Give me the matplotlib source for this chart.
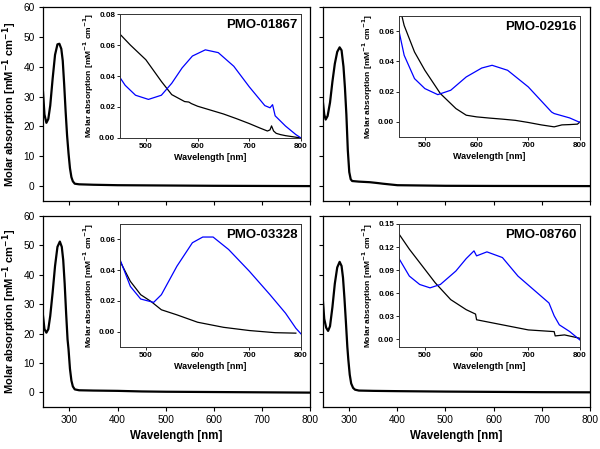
import matplotlib
matplotlib.use("Agg")
import matplotlib.pyplot as plt

plt.rcParams['font.family'] = ['Liberation Sans', 'DejaVu Sans']

BLUE = '#0000ff'

# ---- main UV-vis spectra (wavelength nm, molar absorption mM^-1 cm^-1)
wl_01867 = [245, 248, 252, 256, 260, 265, 270, 275, 279, 283, 286, 289, 292, 295, 298, 301, 304, 307, 311, 320, 350, 400, 500, 600, 700, 800]
ab_01867 = [31.5, 24, 21.2, 22.5, 27, 36, 44, 47.5, 47.7, 46, 42, 34, 25, 17, 11, 6, 3, 1.6, 0.8, 0.6, 0.45, 0.3, 0.2, 0.1, 0.05, 0.0]

wl_02916 = [245, 248, 251, 255, 260, 265, 270, 275, 280, 284, 288, 291, 294, 297, 300, 303, 306, 320, 343, 360, 370, 400, 500, 600, 800]
ab_02916 = [28.5, 24, 22.3, 23.5, 28, 35, 41, 45, 46.5, 45.5, 40, 33, 24, 12, 4.7, 2.3, 1.7, 1.5, 1.3, 1.0, 0.8, 0.3, 0.1, 0.05, 0.0]

wl_03328 = [245, 248, 252, 256, 260, 265, 270, 275, 280, 284, 287, 290, 293, 296, 298, 301, 304, 307, 311, 320, 350, 400, 450, 500, 600, 700, 800]
ab_03328 = [26, 21.5, 20.3, 21.5, 26, 34, 43, 49.5, 51.3, 49.5, 45, 37, 27, 18, 14.7, 8, 4, 2, 1.0, 0.7, 0.6, 0.5, 0.3, 0.2, 0.1, 0.0, -0.1]

wl_08760 = [245, 248, 252, 256, 260, 265, 270, 275, 280, 284, 287, 290, 293, 296, 298, 301, 304, 308, 312, 320, 350, 400, 500, 600, 700, 800]
ab_08760 = [31.7, 25, 22, 20.9, 22.5, 29, 37, 42.5, 44.4, 43, 39, 32, 24, 15.5, 11.2, 6, 3, 1.5, 0.9, 0.6, 0.5, 0.4, 0.25, 0.15, 0.05, 0.0]

# ---- inset spectra, 450-800 nm (black and blue traces)
in_wl_01867_k = [450, 470, 500, 530, 550, 575, 583, 588, 600, 625, 650, 675, 700, 720, 735, 740, 743, 747, 752, 760, 770, 780, 790, 800]
in_ab_01867_k = [0.067, 0.060, 0.0505, 0.0365, 0.028, 0.0235, 0.0232, 0.0222, 0.0205, 0.018, 0.0155, 0.0125, 0.0093, 0.0065, 0.0045, 0.0052, 0.0078, 0.0045, 0.003, 0.0022, 0.0015, 0.001, 0.0005, 0.0]
in_wl_01867_b = [450, 460, 480, 505, 530, 550, 570, 590, 615, 640, 670, 700, 730, 740, 745, 750, 770, 790, 800]
in_ab_01867_b = [0.039, 0.034, 0.0276, 0.0249, 0.0276, 0.0353, 0.0452, 0.0529, 0.0569, 0.0551, 0.0463, 0.033, 0.0209, 0.0195, 0.0215, 0.0143, 0.0077, 0.0022, 0.0]

in_wl_02916_k = [450, 460, 480, 500, 530, 560, 580, 600, 625, 650, 675, 700, 725, 750, 765, 780, 795, 800]
in_ab_02916_k = [0.078, 0.0637, 0.0462, 0.0341, 0.0187, 0.0088, 0.0044, 0.0033, 0.0025, 0.0018, 0.001, -0.0004, -0.002, -0.0033, -0.002, -0.0018, -0.0015, 0.0]
in_wl_02916_b = [450, 460, 480, 500, 525, 550, 580, 610, 630, 660, 700, 745, 750, 780, 800]
in_ab_02916_b = [0.06, 0.044, 0.0286, 0.022, 0.018, 0.0209, 0.0297, 0.0356, 0.0374, 0.0341, 0.0231, 0.0065, 0.0055, 0.0026, -0.0004]

in_wl_03328_k = [450, 470, 490, 510, 530, 560, 600, 650, 700, 750, 790]
in_ab_03328_k = [0.0458, 0.0327, 0.024, 0.0196, 0.0142, 0.0109, 0.0061, 0.0028, 0.0007, -0.0007, -0.001]
in_wl_03328_b = [450, 470, 490, 515, 530, 560, 590, 610, 630, 660, 700, 740, 770, 790, 800]
in_ab_03328_b = [0.0469, 0.0294, 0.0212, 0.019, 0.024, 0.0425, 0.0578, 0.0615, 0.0615, 0.0534, 0.0393, 0.024, 0.012, 0.0022, -0.0015]

in_wl_08760_k = [450, 470, 500, 520, 550, 580, 598, 600, 650, 700, 750, 752, 770, 800]
in_ab_08760_k = [0.1369, 0.1172, 0.091, 0.0735, 0.0516, 0.0385, 0.0328, 0.0254, 0.0188, 0.0122, 0.010, 0.0044, 0.0057, 0.0013]
in_wl_08760_b = [450, 470, 490, 510, 530, 560, 580, 595, 600, 620, 650, 680, 710, 740, 750, 760, 780, 800]
in_ab_08760_b = [0.105, 0.0822, 0.0713, 0.0669, 0.0713, 0.0888, 0.105, 0.115, 0.1085, 0.1137, 0.1063, 0.0822, 0.0647, 0.0472, 0.0306, 0.0188, 0.0101, -0.001]

names = ['PMO-01867', 'PMO-02916', 'PMO-03328', 'PMO-08760']
main_data = [(wl_01867, ab_01867), (wl_02916, ab_02916), (wl_03328, ab_03328), (wl_08760, ab_08760)]
inset_data = [
    (in_wl_01867_k, in_ab_01867_k, in_wl_01867_b, in_ab_01867_b),
    (in_wl_02916_k, in_ab_02916_k, in_wl_02916_b, in_ab_02916_b),
    (in_wl_03328_k, in_ab_03328_k, in_wl_03328_b, in_ab_03328_b),
    (in_wl_08760_k, in_ab_08760_k, in_wl_08760_b, in_ab_08760_b),
]
inset_ylim = [(0, 0.08), (-0.01, 0.07), (-0.01, 0.07), (-0.01, 0.15)]
inset_yticks = [[0, 0.02, 0.04, 0.06, 0.08], [0, 0.02, 0.04, 0.06], [0, 0.02, 0.04, 0.06],
                [0, 0.03, 0.06, 0.09, 0.12, 0.15]]

# positions in figure fractions
main_pos = [[0.0717, 0.5523, 0.445, 0.432], [0.538, 0.5523, 0.445, 0.432],
            [0.0717, 0.0935, 0.445, 0.4254], [0.538, 0.0935, 0.445, 0.4254]]
inset_pos = [[0.2, 0.6927, 0.3017, 0.276], [0.665, 0.6949, 0.3017, 0.2695],
             [0.2, 0.2272, 0.3017, 0.274], [0.665, 0.2272, 0.3017, 0.274]]

ylab = 'Molar absorption [mM$^{\\mathbf{-1}}$ cm$^{\\mathbf{-1}}$]'

fig = plt.figure(figsize=(6, 4.49), dpi=100)

for i in range(4):
    ax = fig.add_axes(main_pos[i])
    x, y = main_data[i]
    ax.plot(x, y, color='black', lw=1.6)
    ax.set_xlim(245, 800)
    ax.set_ylim(-5, 60)
    ax.set_xticks([300, 400, 500, 600, 700, 800])
    ax.set_yticks([0, 10, 20, 30, 40, 50, 60])
    ax.tick_params(direction='out', length=3, width=0.8, labelsize=7.3, pad=3)
    for s in ax.spines.values():
        s.set_linewidth(0.9)
    if i < 2:
        ax.set_xticklabels([])
    else:
        ax.set_xlabel('Wavelength [nm]', fontsize=8.3, fontweight='bold', labelpad=3)
    if i % 2 == 1:
        ax.set_yticklabels([])
    else:
        ax.set_ylabel(ylab, fontsize=8, fontweight='bold', labelpad=3)

    ins = fig.add_axes(inset_pos[i])
    xk, yk, xb, yb = inset_data[i]
    ins.plot(xk, yk, color='black', lw=0.9)
    ins.plot(xb, yb, color=BLUE, lw=0.9)
    ins.set_xlim(450, 800)
    ins.set_ylim(*inset_ylim[i])
    ins.set_xticks([500, 600, 700, 800])
    ins.set_yticks(inset_yticks[i])
    ins.set_yticklabels(['%.2f' % v for v in inset_yticks[i]])
    ins.tick_params(direction='out', length=2, width=0.6, labelsize=5.8, pad=1.5)
    for lab in ins.get_xticklabels() + ins.get_yticklabels():
        lab.set_fontweight('bold')
    for s in ins.spines.values():
        s.set_linewidth(0.7)
        s.set_color('#333333')
    ins.set_xlabel('Wavelength [nm]', fontsize=6.5, fontweight='bold', labelpad=2)
    ins.set_ylabel(ylab, fontsize=6, fontweight='bold', labelpad=2)
    ins.text(0.98, 0.96, names[i], transform=ins.transAxes, ha='right', va='top',
             fontsize=9.5, fontweight='bold')

fig.savefig('out.png', dpi=100)
